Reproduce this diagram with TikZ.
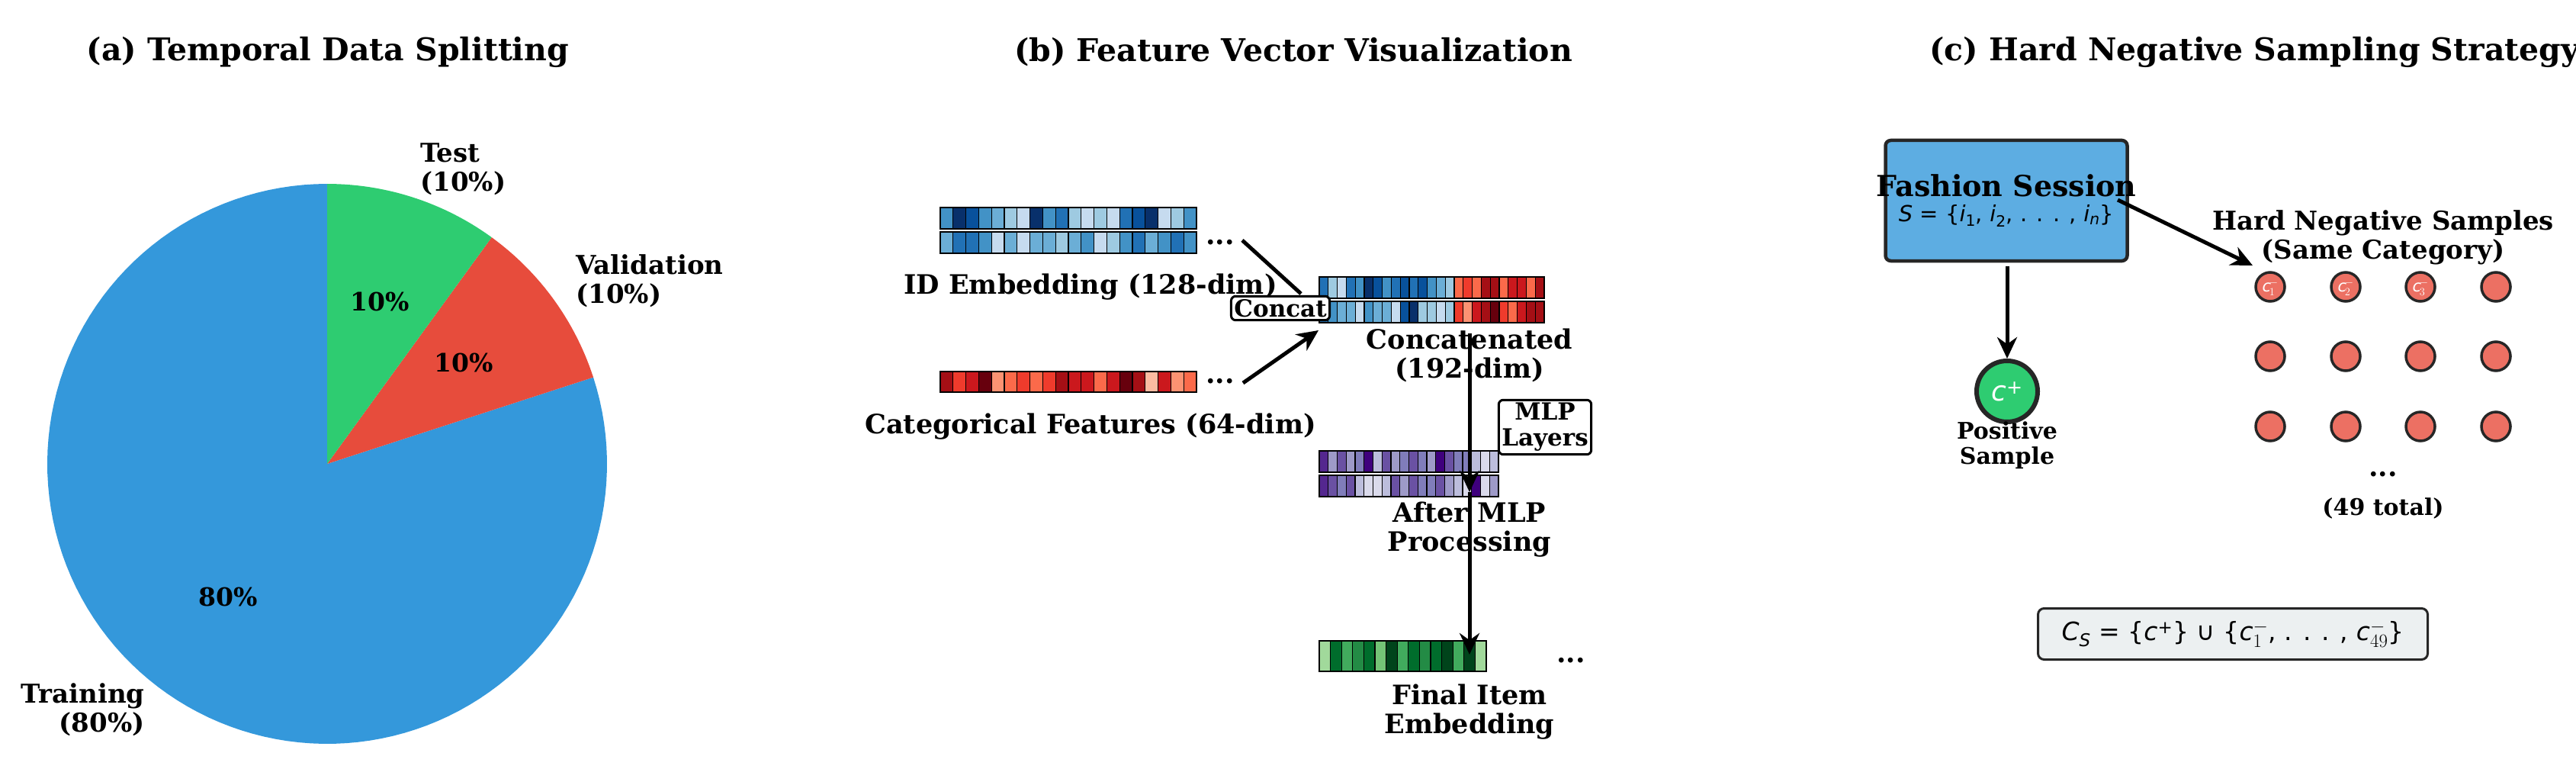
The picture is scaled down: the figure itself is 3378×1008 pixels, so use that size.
\documentclass[tikz,border=0pt]{standalone}
\usepackage{fontspec}
\setmainfont{DejaVu Serif}
\newfontfamily\mfont{DejaVu Sans}
\usetikzlibrary{arrows.meta}
\definecolor{pgreen}{HTML}{2ECC71}
\definecolor{pred}{HTML}{E74C3C}
\definecolor{pblue}{HTML}{3498DB}
\definecolor{sessblue}{HTML}{5DADE2}
\definecolor{negred}{HTML}{EC7063}
\definecolor{formbg}{HTML}{ECF0F1}
\definecolor{B1}{HTML}{C6DBEF}\definecolor{B2}{HTML}{9ECAE1}\definecolor{B3}{HTML}{6BAED6}\definecolor{B4}{HTML}{4292C6}\definecolor{B5}{HTML}{2171B5}\definecolor{B6}{HTML}{08519C}\definecolor{B7}{HTML}{08306B}
\definecolor{R1}{HTML}{FCBBA1}\definecolor{R2}{HTML}{FC9272}\definecolor{R3}{HTML}{FB6A4A}\definecolor{R4}{HTML}{EF3B2C}\definecolor{R5}{HTML}{CB181D}\definecolor{R6}{HTML}{A50F15}\definecolor{R7}{HTML}{67000D}
\definecolor{P1}{HTML}{DADAEB}\definecolor{P2}{HTML}{BCBDDC}\definecolor{P3}{HTML}{9E9AC8}\definecolor{P4}{HTML}{807DBA}\definecolor{P5}{HTML}{6A51A3}\definecolor{P6}{HTML}{54278F}\definecolor{P7}{HTML}{3F007D}
\definecolor{G1}{HTML}{C7E9C0}\definecolor{G2}{HTML}{A1D99B}\definecolor{G3}{HTML}{74C476}\definecolor{G4}{HTML}{41AB5D}\definecolor{G5}{HTML}{238B45}\definecolor{G6}{HTML}{006D2C}\definecolor{G7}{HTML}{00441B}
\newcommand\cellrow[6]{\foreach \c [count=\i from 0] in {#6}{\filldraw[fill=#5\c, draw=black, line width=1.3] ({#1+\i*#3},#2) rectangle ++(#3,#4);}}
\tikzset{
  title/.style={font=\fontsize{41}{46}\selectfont\bfseries},
  lbl/.style={font=\fontsize{35}{38}\selectfont\bfseries, align=center},
  pielbl/.style={font=\fontsize{34}{38}\selectfont\bfseries, align=left},
  pct/.style={font=\fontsize{33}{36}\selectfont\bfseries},
  small/.style={font=\fontsize{30}{33}\selectfont\bfseries, align=center},
  tagbox/.style={draw=black, line width=3, rounded corners=6, fill=white, align=center, font=\fontsize{31}{34}\selectfont\bfseries, inner sep=4},
  arr/.style={line width=5, -{Stealth[length=28,width=26]}},
  dots/.style={font=\fontsize{36}{36}\selectfont\bfseries},
}
\begin{document}
\begin{tikzpicture}[x=1pt,y=-1pt]
\useasboundingbox (0,0) rectangle (3378,1008);
% ---------- (a)
\node[title] (ta) at (430,68) {(a) Temporal Data Splitting};
\coordinate (pc) at (429,608);
\fill[pblue] (pc) -- plot[domain=-18:270, samples=120] ({429+367*cos(\x)},{608+367*sin(\x)}) -- cycle;
\fill[pred] (pc) -- plot[domain=-54:-18, samples=30] ({429+367*cos(\x)},{608+367*sin(\x)}) -- cycle;
\fill[pgreen] (pc) -- plot[domain=-90:-54, samples=30] ({429+367*cos(\x)},{608+367*sin(\x)}) -- cycle;
\node[pielbl, anchor=west] (lt) at (548,222) {Test\\(10\%)};
\node[pielbl, anchor=west] (lv) at (752,368) {Validation\\(10\%)};
\node[pielbl, align=right, anchor=east] (ltr) at (193,930) {Training\\(80\%)};
\node[pct] (pg) at (498,395) {10\%};
\node[pct] (pr) at (608,475) {10\%};
\node[pct] (pb) at (299,782) {80\%};
% ---------- (b)
\node[title] (tb) at (1696,68) {(b) Feature Vector Visualization};
\cellrow{1233}{272}{16.8}{28}{B}{4,7,6,4,3,2,1,7,4,5,2,1,2,1,5,6,7,1,2,4}
\cellrow{1233}{304}{16.8}{28}{B}{3,5,5,4,1,3,1,3,3,2,3,4,1,2,4,5,3,4,5,4}
\node[dots] (d1) at (1600,318) {...};
\node[lbl] (lid) at (1430,376) {ID Embedding (128-dim)};
\cellrow{1233}{487}{16.8}{27}{R}{6,4,5,7,2,3,4,3,4,6,5,5,3,5,7,6,1,5,2,3}
\node[dots] (d2) at (1600,500) {...};
\node[lbl] (lcat) at (1430,559) {Categorical Features (64-dim)};
\cellrow{1730}{363}{11.8}{28}{B}{5,2,1,5,4,7,6,4,5,6,5,6,4,3,2}
\cellrow{1907}{363}{11.8}{28}{R}{3,4,3,6,6,3,5,5,3,6}
\cellrow{1730}{395}{11.8}{28}{B}{5,4,3,3,1,4,3,3,1,6,7,2,2,1,2}
\cellrow{1907}{395}{11.8}{28}{R}{4,2,5,6,7,4,3,5,6,6}
\node[lbl] (lcc) at (1927,466) {Concatenated\\(192-dim)};
\cellrow{1730}{591}{11.75}{28}{P}{6,3,5,3,4,7,2,5,3,4,5,4,3,7,5,4,4,2,1,2}
\cellrow{1730}{623}{11.75}{28}{P}{6,5,4,5,2,1,1,2,5,3,5,4,4,5,3,2,1,7,1,3}
\node[lbl] (lmlp) at (1927,694) {After MLP\\Processing};
\cellrow{1730}{840}{14.6}{40}{G}{2,6,4,5,6,3,7,4,6,5,6,7,4,7,2}
\node[dots] (d3) at (2060,866) {...};
\node[lbl] (lfin) at (1927,933) {Final Item\\Embedding};
\draw[line width=5] (1629,315) -- (1706,385);
\node[tagbox] (concat) at (1679,404) {Concat};
\draw[arr] (1630,502) -- (1729,433);
\node[tagbox] (mlpbox) at (2026,560) {MLP\\Layers};
\coordinate (v1) at (1927,437);
\coordinate (v2) at (1927,645);
\coordinate (v3) at (1927,858);
\draw[arr] (v1) -- (v2);
\draw[arr] (v2) -- (v3);
% ---------- (c)
\node[title, anchor=west] (tc) at (2527,68) {(c) Hard Negative Sampling Strategy};
\node[draw=black!85, line width=4.5, rounded corners=7, fill=sessblue, minimum width=317, minimum height=158] (sess) at (2631,263) {};
\node[font=\fontsize{38}{40}\selectfont\bfseries] (sessT) at (2631,243) {Fashion Session};
\node[font=\mfont\fontsize{29}{32}\selectfont] (sessM) at (2631,283) {\itshape S\upshape\ = \{\itshape i\upshape\textsubscript{1}, \itshape i\upshape\textsubscript{2}, . . . , \itshape i\textsubscript{n}\upshape\}};
\node[circle, fill=pgreen, draw=black!85, line width=6, minimum size=80, inner sep=0, font=\mfont\fontsize{36}{36}\selectfont, text=white] (cp) at (2632,513) {\itshape c\upshape\textsuperscript{+}};
\draw[arr] (sess.south -| cp) ++(0,5) -- (cp.north);
\node[small] (lpos) at (2632,584) {Positive\\Sample};
\node[font=\fontsize{34}{38}\selectfont\bfseries, align=center] (lhn) at (3125,311) {Hard Negative Samples\\(Same Category)};
\coordinate (hn) at (2954,348);
\draw[arr] (2777,262) -- (hn);
\foreach \r/\yy in {1/376,2/467,3/559}{
  \foreach \k/\xx in {1/2977,2/3076,3/3174,4/3273}{
    \draw[fill=negred, draw=black!85, line width=3.5] (\xx,\yy) circle [radius=19];
  }
}
\foreach \k/\xx in {1/2977,2/3076,3/3174}{
  \node[font=\mfont\fontsize{21}{21}\selectfont, text=white, inner sep=0] (cn\k) at (\xx,377) {\itshape c\upshape$^{\!-}_{\!\k}$};
}
\node[dots] (d4) at (3125,622) {...};
\node[small] (l49) at (3125,666) {(49 total)};
\node[draw=black!85, line width=3, rounded corners=8, fill=formbg, minimum width=511, minimum height=67, font=\mfont\fontsize{33}{36}\selectfont] (form) at (2928,831) {\itshape C\textsubscript{S}\upshape\ = \{\itshape c\upshape\textsuperscript{+}\} ∪ \{\itshape c\upshape$^{-}_{1}$, . . . , \itshape c\upshape$^{-}_{49}$\}};
\end{tikzpicture}
\end{document}
